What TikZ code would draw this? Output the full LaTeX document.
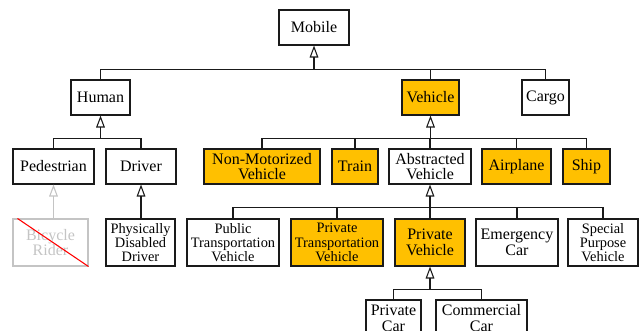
\documentclass[tikz,border=0pt]{standalone}
\usepackage{fontspec}
\setmainfont{Liberation Serif}
\newfontfamily\diagfont{Liberation Serif}
\usetikzlibrary{arrows.meta}
\definecolor{hilite}{HTML}{FFC000}
\definecolor{faded}{HTML}{C4C4C4}
\definecolor{ink}{HTML}{1A1A1A}
\begin{document}
\begin{tikzpicture}[x=0.75pt,y=-0.75pt,
  box/.style={draw=ink, line width=0.8pt, inner sep=0pt, align=center,
    font=\diagfont\fontsize{12pt}{11.8pt}\selectfont, text=black},
  small/.style={font=\diagfont\fontsize{10.8pt}{10.7pt}\selectfont},
  hot/.style={fill=hilite},
  bw/.style={minimum width=#1*0.75pt},
  bh/.style={minimum height=#1*0.75pt},
  link/.style={line width=0.8pt, draw=ink},
  isa/.style={link, -{Triangle[fill=white, length=9pt, width=6.5pt]}},
]
\useasboundingbox (0,0) rectangle (643,331);
\clip (0,0) rectangle (643,331);

% root
\node[box,bw=70,bh=35] (mobile) at (314,27.5) {Mobile};

% first level
\node[box,bw=59,bh=35] (human) at (100.5,97.5) {Human};
\node[box,hot,bw=57,bh=35] (vehicle) at (430.5,97.5) {Vehicle};
\node[box,bw=47,bh=35] (cargo) at (545.5,97.5) {Cargo};

% second level
\node[box,bw=81,bh=35] (pedestrian) at (53.5,166.5) {Pedestrian};
\node[box,bw=70,bh=35] (driver) at (141,166.5) {Driver};
\node[box,hot,bw=116,bh=35] (nonmot) at (262,166.5) {Non-Motorized\\Vehicle};
\node[box,hot,bw=46,bh=35] (train) at (355,166.5) {Train};
\node[box,bw=82,bh=35] (abstracted) at (430,166.5) {Abstracted\\Vehicle};
\node[box,hot,bw=69,bh=35] (airplane) at (516.5,166.5) {Airplane};
\node[box,hot,bw=47,bh=35] (ship) at (586.5,166.5) {Ship};

% third level
\node[box,draw=faded,text=faded,bw=75,bh=47] (bike) at (50.5,242.5) {Bicycle\\Rider};
\node[box,small,bw=69,bh=47] (pdd) at (140.5,242.5) {Physically\\Disabled\\Driver};
\node[box,small,bw=92,bh=47] (public) at (233,242.5) {Public\\Transportation\\Vehicle};
\node[box,small,hot,bw=92,bh=47] (privtrans) at (337,242.5) {Private\\Transportation\\Vehicle};
\node[box,hot,bw=70,bh=47] (privveh) at (430,242.5) {Private\\Vehicle};
\node[box,bw=82,bh=47] (emergency) at (517,242.5) {Emergency\\Car};
\node[box,small,bw=70,bh=47] (special) at (603,242.5) {Special\\Purpose\\Vehicle};

% fourth level
\node[box,bw=55,bh=36] (privcar) at (393.5,318) {Private\\Car};
\node[box,bw=91,bh=36] (commercial) at (481.5,318) {Commercial\\Car};

% junction points of the generalisation buses
\path (mobile.south) ++(0,24) coordinate (jm);
\path (human.south) ++(0,23) coordinate (jh);
\path (vehicle.south) ++(0,23) coordinate (jv);
\path (abstracted.south) ++(0,23) coordinate (ja);
\path (privveh.south) ++(0,23) coordinate (jp);

% Mobile
\draw[isa] (jm) -- (mobile.south);
\draw[link] (human.north) |- (jm) -| (cargo.north);
\draw[link] (vehicle.north) -- (vehicle.north |- jm);

% Human
\draw[isa] (jh) -- (human.south);
\draw[link] (pedestrian.north) |- (jh) -| (driver.north);

% Vehicle
\draw[isa] (jv) -- (vehicle.south);
\draw[link] (nonmot.north) |- (jv) -| (ship.north);
\draw[link] (train.north) -- (train.north |- jv);
\draw[link] (abstracted.north) -- (abstracted.north |- jv);
\draw[link] (airplane.north) -- (airplane.north |- jv);

% Abstracted Vehicle
\draw[isa] (ja) -- (abstracted.south);
\draw[link] (public.north) |- (ja) -| (special.north);
\draw[link] (privtrans.north) -- (privtrans.north |- ja);
\draw[link] (privveh.north) -- (privveh.north |- ja);
\draw[link] (emergency.north) -- (emergency.north |- ja);

% Private Vehicle
\draw[isa] (jp) -- (privveh.south);
\draw[link] (privcar.north) |- (jp) -| (commercial.north);

% Driver
\draw[isa] (driver.south |- pdd.north) -- (driver.south);

% Pedestrian (struck out)
\draw[isa, draw=faded] (pedestrian.south |- bike.north) -- (pedestrian.south);
\draw[red, line width=0.8pt] ([xshift=3.75pt]bike.north west) -- (bike.south east);
\end{tikzpicture}
\end{document}
